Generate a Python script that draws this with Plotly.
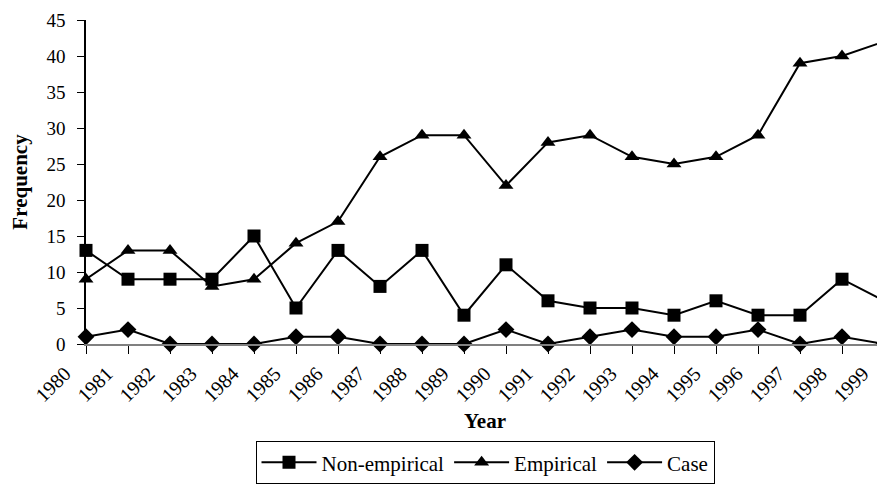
import plotly.graph_objects as go

years = [str(y) for y in range(1980, 2000)]
non_empirical = [13, 9, 9, 9, 15, 5, 13, 8, 13, 4, 11, 6, 5, 5, 4, 6, 4, 4, 9, 6]
empirical = [9, 13, 13, 8, 9, 14, 17, 26, 29, 29, 22, 28, 29, 26, 25, 26, 29, 39, 40, 42]
case = [1, 2, 0, 0, 0, 1, 1, 0, 0, 0, 2, 0, 1, 2, 1, 1, 2, 0, 1, 0]
y_ticks = list(range(0, 50, 5))

xi = list(range(len(years)))
fig = go.Figure()
for name, vals, sym, sz in [("Non-empirical", non_empirical, "square", 13),
                            ("Empirical", empirical, "triangle-up", 13),
                            ("Case", case, "diamond", 13)]:
    fig.add_trace(go.Scatter(x=xi, y=vals, name=name, mode="lines+markers",
                             line=dict(color="black", width=2),
                             marker=dict(symbol=sym, size=sz, color="black"),
                             cliponaxis=False))

font = "Liberation Serif"
fig.update_layout(
    width=877, height=477,
    margin=dict(l=78, r=1, t=12, b=139),
    plot_bgcolor="white", paper_bgcolor="white",
    font=dict(family=font, size=20, color="black"),
    showlegend=True,
    legend=dict(orientation="h", x=0.5, xanchor="center", y=-0.3, yanchor="top",
                bordercolor="black", borderwidth=1, font=dict(family=font, size=21),
                itemwidth=55, traceorder="normal"),
    xaxis=dict(range=[0, 19], tickmode="array", tickvals=xi, ticktext=years,
               tickangle=-45, ticks="outside", ticklen=8, tickcolor="black",
               tickfont=dict(family=font, size=20), ticklabeloverflow="allow",
               showline=True, linecolor="#808080", linewidth=2, showgrid=False,
               zeroline=False, ticklabelshift=-21, automargin=False,
               title=dict(text="<b>Year</b>", font=dict(family=font, size=21), standoff=8)),
    yaxis=dict(range=[0, 45], tickvals=y_ticks, ticks="outside", ticklen=7,
               tickcolor="black", showline=True, linecolor="black", linewidth=1.5,
               tickfont=dict(family=font, size=19), automargin=False,
               ticklabelstandoff=8, ticklabeloverflow="allow",
               showgrid=False, zeroline=False,
               title=dict(text="<b>Frequency</b>", font=dict(family=font, size=21), standoff=16)),
)
fig.write_html("out.html")
